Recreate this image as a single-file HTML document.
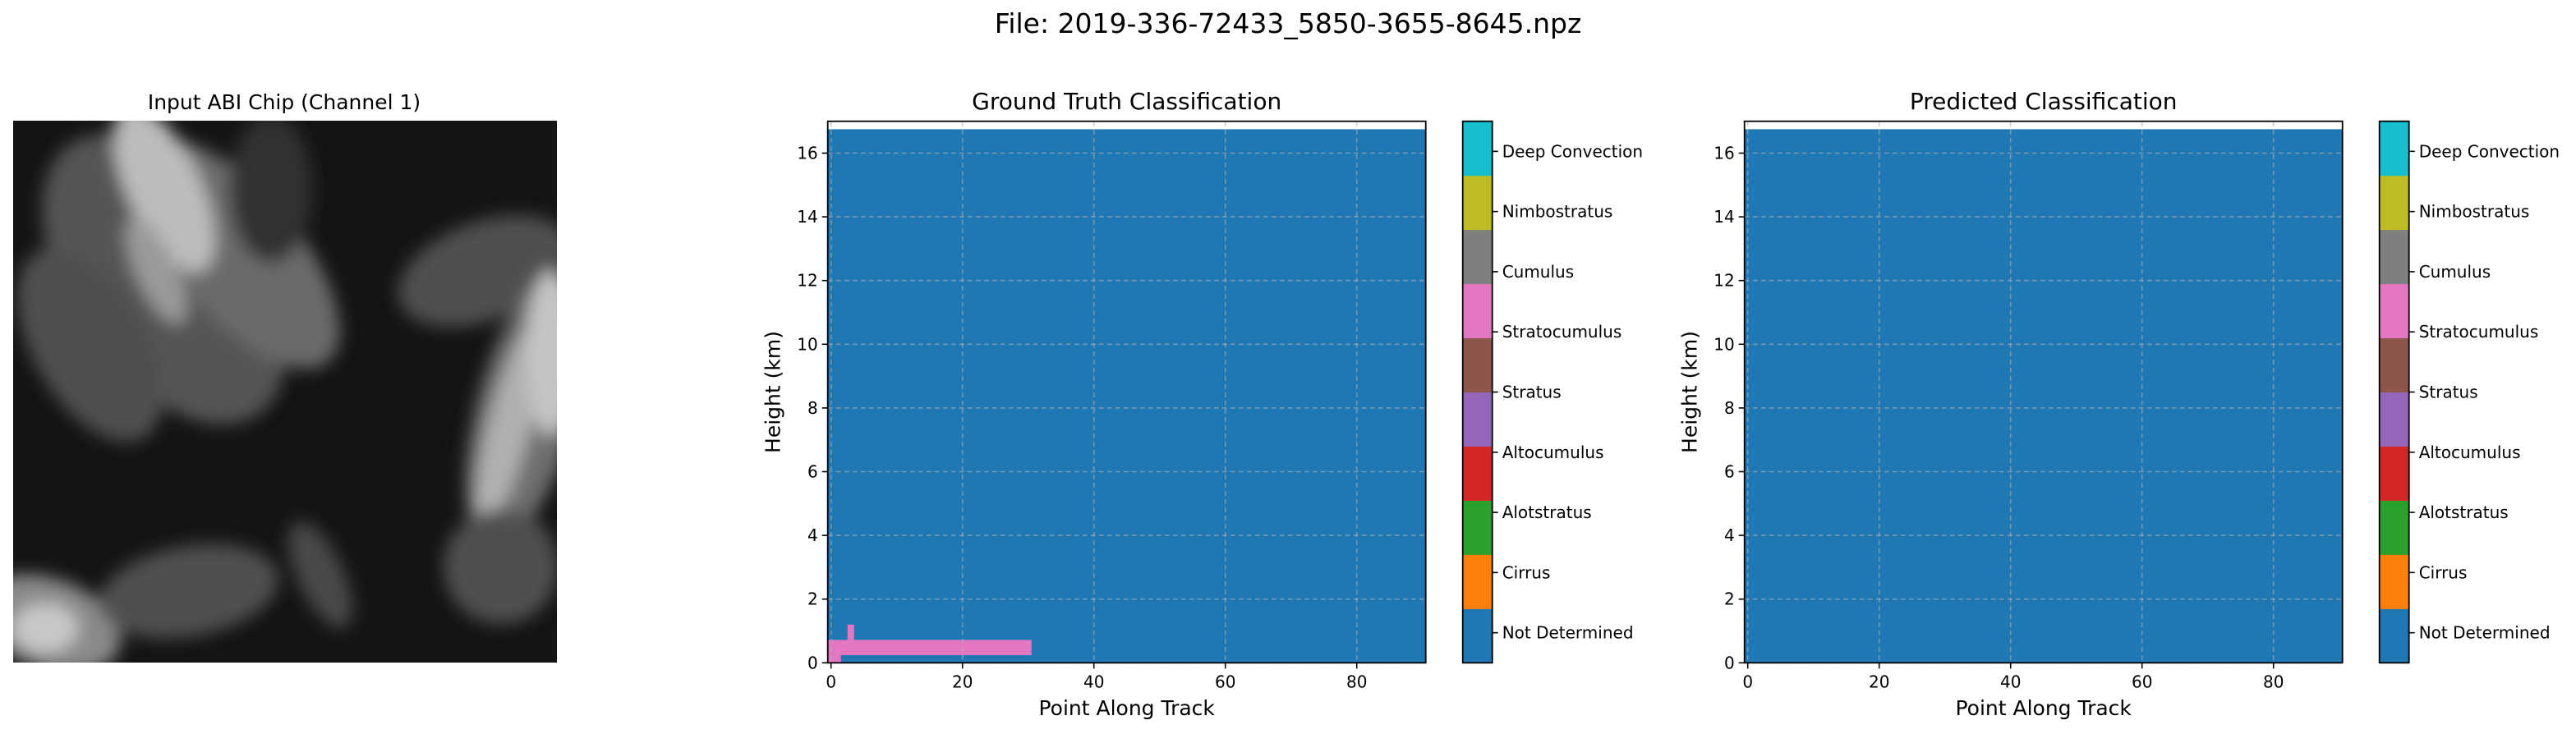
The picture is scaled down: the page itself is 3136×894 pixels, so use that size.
<!DOCTYPE html>
<html><head><meta charset="utf-8"><style>
html,body{margin:0;padding:0;background:#fff;}
body{width:3136px;height:890px;overflow:hidden;position:relative;font-family:"DejaVu Sans","Liberation Sans",sans-serif;}
svg text{font-family:"DejaVu Sans","Liberation Sans",sans-serif;fill:#000;}
</style></head><body>
<svg id="fig" width="3136" height="890" xmlns="http://www.w3.org/2000/svg">
<defs>
<filter id="blur" x="-20%" y="-20%" width="140%" height="140%"><feGaussianBlur stdDeviation="10"/></filter>
<clipPath id="imgclip"><rect x="16" y="147" width="662" height="660"/></clipPath>
</defs>
<text x="1568" y="40" font-size="33" text-anchor="middle">File: 2019-336-72433_5850-3655-8645.npz</text>
<text x="346" y="133" font-size="25" text-anchor="middle">Input ABI Chip (Channel 1)</text>
<g clip-path="url(#imgclip)">
<rect x="16" y="147" width="662" height="660" fill="#151515"/>
<g filter="url(#blur)">
<ellipse cx="200" cy="340" rx="200" ry="115" transform="rotate(55 200 340)" fill="#555"/>
<ellipse cx="110" cy="420" rx="130" ry="70" transform="rotate(60 110 420)" fill="#505050"/>
<ellipse cx="290" cy="310" rx="170" ry="75" transform="rotate(50 290 310)" fill="#6a6a6a"/>
<ellipse cx="200" cy="230" rx="110" ry="45" transform="rotate(65 200 230)" fill="#bcbcbc"/>
<ellipse cx="190" cy="330" rx="70" ry="25" transform="rotate(65 190 330)" fill="#9a9a9a"/>
<ellipse cx="330" cy="230" rx="50" ry="90" fill="#333"/>
<ellipse cx="590" cy="330" rx="110" ry="60" transform="rotate(-20 590 330)" fill="#505050"/>
<ellipse cx="640" cy="500" rx="60" ry="170" transform="rotate(15 640 500)" fill="#6e6e6e"/>
<ellipse cx="620" cy="520" rx="26" ry="130" transform="rotate(15 620 520)" fill="#b0b0b0"/>
<ellipse cx="670" cy="430" rx="30" ry="100" fill="#c4c4c4"/>
<ellipse cx="610" cy="690" rx="70" ry="70" fill="#505050"/>
<ellipse cx="60" cy="760" rx="90" ry="55" transform="rotate(20 60 760)" fill="#8a8a8a"/>
<ellipse cx="55" cy="765" rx="40" ry="30" fill="#c8c8c8"/>
<ellipse cx="230" cy="720" rx="110" ry="55" transform="rotate(-10 230 720)" fill="#505050"/>
<ellipse cx="390" cy="700" rx="28" ry="70" transform="rotate(-25 390 700)" fill="#4a4a4a"/>
</g>
</g>
<g id="panels"></g>
</svg>
<script>
// ---- data ----
const xTicks = [0, 20, 40, 60, 80];
const yTicks = [0, 2, 4, 6, 8, 10, 12, 14, 16];
const xDomain = [-0.5, 90.5];
const yDomain = [0, 17];
const dataTop = [16.75];
const classColors = ["#1f77b4","#ff7f0e","#2ca02c","#d62728","#9467bd","#8c564b","#e377c2","#7f7f7f","#bcbd22","#17becf"];
// ground truth non-background cells: [xStart, xEnd, yStart, yEnd, classIndex]
const truthCells = [
  [-0.5, 30.5, 0.24, 0.72, 6],
  [2.5, 3.5, 0.72, 1.2, 6],
  [-0.5, 1.5, 0, 0.24, 6]
];
const predCells = [];
const cbLabels = ["Not Determined","Cirrus","Alotstratus","Altocumulus","Stratus","Stratocumulus","Cumulus","Nimbostratus","Deep Convection"];

const NS = "http://www.w3.org/2000/svg";
function mk(tag, attrs, parent){const e=document.createElementNS(NS,tag);for(const k in attrs)e.setAttribute(k,attrs[k]);parent.appendChild(e);return e;}

function panel(ox, title, cells, prefix){
  const L=ox, R=ox+728, T=147.7, B=807.3;
  const sx=v=>L+(v-xDomain[0])/(xDomain[1]-xDomain[0])*(R-L);
  const sy=v=>B-(v-yDomain[0])/(yDomain[1]-yDomain[0])*(B-T);
  const root=document.getElementById('panels');
  const g=mk('g',{},root);
  
  
  const t=mk('text',{x:(L+R)/2,y:133,'font-size':28,'text-anchor':'middle'},g);
  
  
  t.textContent=title;
  const bg=mk('rect',{x:sx(xDomain[0]),y:sy(dataTop[0]),width:sx(xDomain[1])-sx(xDomain[0]),height:sy(0)-sy(dataTop[0]),fill:classColors[0]},g);
  
  
  cells.forEach(c=>{
    const r=mk('rect',{x:sx(c[0]),y:sy(c[3]),width:sx(c[1])-sx(c[0]),height:sy(c[2])-sy(c[3]),fill:classColors[c[4]]},g);
    
    
  });
  xTicks.forEach(v=>{
    const l=mk('line',{x1:sx(v),x2:sx(v),y1:T,y2:B,stroke:'rgba(176,176,176,0.6)','stroke-width':1.6,'stroke-dasharray':'6,4'},g);
    
    
    mk('line',{x1:sx(v),x2:sx(v),y1:B,y2:B+7,stroke:'#000','stroke-width':1.6},g);
    const tx=mk('text',{x:sx(v),y:B+30,'font-size':20,'text-anchor':'middle'},g);
    
    
    tx.textContent=v;
  });
  yTicks.forEach(v=>{
    const l=mk('line',{x1:L,x2:R,y1:sy(v),y2:sy(v),stroke:'rgba(176,176,176,0.6)','stroke-width':1.6,'stroke-dasharray':'6,4'},g);
    
    
    mk('line',{x1:L-7,x2:L,y1:sy(v),y2:sy(v),stroke:'#000','stroke-width':1.6},g);
    const ty=mk('text',{x:L-12,y:sy(v)+7,'font-size':20,'text-anchor':'end'},g);
    
    
    ty.textContent=v;
  });
  const fr=mk('rect',{x:L,y:T,width:R-L,height:B-T,fill:'none',stroke:'#000','stroke-width':1.8},g);
  
  
  const xl=mk('text',{x:(L+R)/2,y:871,'font-size':25,'text-anchor':'middle'},g);
  
  
  xl.textContent='Point Along Track';
  const yl=mk('text',{x:0,y:0,'font-size':25,'text-anchor':'middle',transform:`translate(${L-58},${(T+B)/2}) rotate(-90)`},g);
  
  
  yl.textContent='Height (km)';
  // colorbar
  const cx=R+45, cw=36, n=classColors.length, h=(B-T)/n;
  const cb=mk('g',{},g);
  
  
  classColors.forEach((c,i)=>{
    const s=mk('rect',{x:cx,y:B-(i+1)*h,width:cw,height:h+0.5,fill:c},cb);
    
    
  });
  mk('rect',{x:cx,y:T,width:cw,height:B-T,fill:'none',stroke:'#000','stroke-width':1.8},cb);
  const m=cbLabels.length;
  cbLabels.forEach((lab,i)=>{
    const yf=B-(B-T)*(0.5+i)/m;
    mk('line',{x1:cx+cw,x2:cx+cw+7,y1:yf,y2:yf,stroke:'#000','stroke-width':1.6},cb);
    const tl=mk('text',{x:cx+cw+12,y:yf+7,'font-size':20},cb);
    
    
    tl.textContent=lab;
  });
}
panel(1007.7,'Ground Truth Classification',truthCells,'ground-truth');
panel(2123.7,'Predicted Classification',predCells,'predicted');
</script>
</body></html>
